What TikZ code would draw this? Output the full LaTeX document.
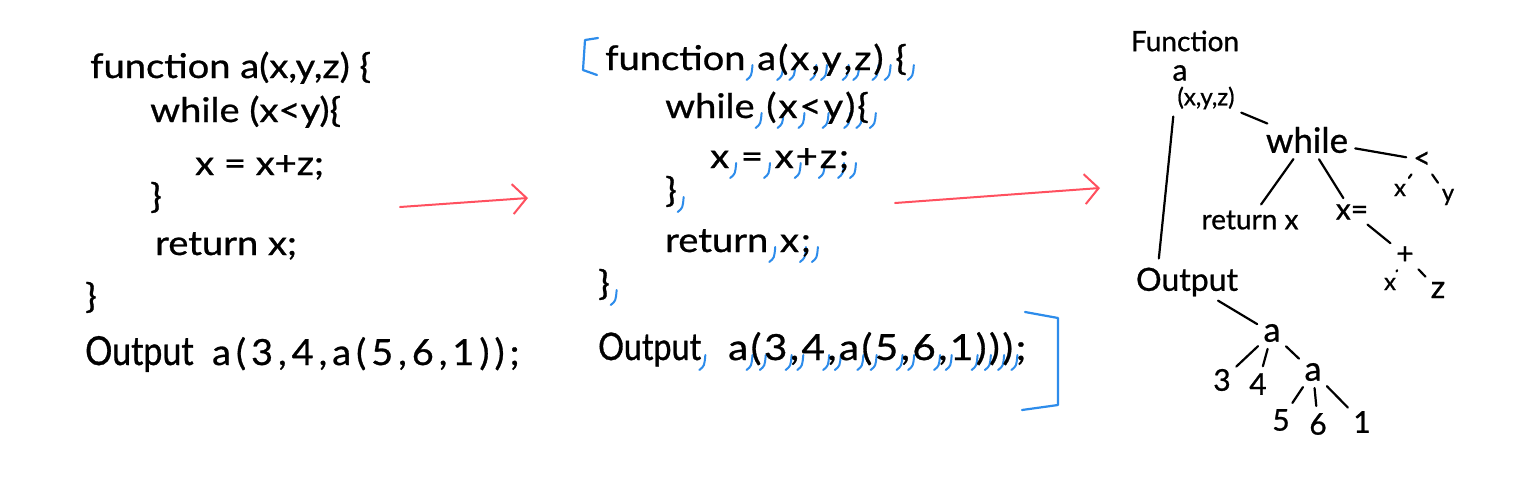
\documentclass[tikz,border=0pt]{standalone}
\usepackage{fontspec}
\setmainfont{Lato}[FakeBold=0.8]
\newfontfamily\codefont{Lato}[FakeStretch=1.12,FakeBold=0.8]
\newfontfamily\widefont{Lato}[FakeStretch=1.05,FakeBold=0.8,LetterSpace=14]
\newfontfamily\narrowfont{Lato}[FakeStretch=0.85,FakeBold=0.8]
\usetikzlibrary{arrows.meta,calc}
\definecolor{inkred}{RGB}{255,80,95}
\definecolor{inkblue}{RGB}{45,140,235}
\newcommand\tb{\makebox[2pt][l]{\tikz[baseline=0pt]\draw[inkblue,line width=2pt,line cap=round] (0pt,-10pt) .. controls (5pt,-6pt) .. (6pt,5pt);}}
\newcommand\tbw{\makebox[2.5pt][c]{\tikz[baseline=0pt]\draw[inkblue,line width=2pt,line cap=round] (0pt,-10pt) .. controls (5pt,-6pt) .. (6pt,5pt);}}
\begin{document}
\begin{tikzpicture}[x=1pt,y=-1pt,
  code/.style={anchor=base west, inner sep=0pt, font=\codefont\fontsize{34}{38}\selectfont},
  outcode/.style={anchor=base west, inner sep=0pt, font=\narrowfont\fontsize{#1}{#1}\selectfont},
  argcode/.style={anchor=base west, inner sep=0pt, font=\widefont\fontsize{36}{40}\selectfont},
  midargcode/.style={anchor=base west, inner sep=0pt, font=\codefont\fontsize{36}{40}\selectfont},
  tree/.style={inner sep=1pt, font=\fontsize{28}{30}\selectfont},
  fs/.style={font=\fontsize{#1}{#1}\selectfont},
  edge/.style={draw, line width=2.2pt, line cap=round, shorten <=6pt, shorten >=6pt},
  vline/.style={draw, line width=2.2pt, line cap=round, line join=round},
  redarrow/.style={draw=inkred, line width=2pt, line cap=round, -{Straight Barb[length=14pt,width=30pt]}},
  bracket/.style={draw=inkblue, line width=2.2pt, line cap=round, line join=round}]
\fill[white] (0,0) rectangle (1536,482);
\useasboundingbox (0,0) rectangle (1536,482);

% left panel
\node[code] (l1) at (90,78) {function a(x,y,z) \{};
\node[code] (l2) at (150,122) {while (x<y)\{};
\node[code] (l3) at (195,175) {x = x+z;};
\node[code] (l4) at (150,208) {\}};
\node[code] (l5) at (155,255) {return x;};
\node[code] (l6) at (85,308) {\}};
\node[outcode=40] (l7) at (85,365) {Output};
\node[argcode] (l7b) at (212,365) {a(3,4,a(5,6,1));};

% middle panel
\node[code] (m1) at (605,70) {function\tb{} a\tb(\tb x\tb,\tb y\tb,\tb z\tb)\tb{} \{\tb};
\node[code] (m2) at (665,118) {while\tb{} (\tb x\tb<\tb y\tb)\tb\{\tb};
\node[code] (m3) at (710,168) {x\tb{} =\tb{} x\tb+\tb z\tb;\tb};
\node[code] (m4) at (665,202) {\}\tb};
\node[code] (m5) at (665,252) {return\tb{} x\tb;\tb};
\node[code] (m6) at (598,295) {\}\tb};
\node[outcode=38] (m7) at (598,360) {Output\tbw};
\node[midargcode] (m7b) at (728,360) {a\tbw(\tbw 3\tbw,\tbw 4\tbw,\tbw a\tbw(\tbw 5\tbw,\tbw 6\tbw,\tbw 1\tbw)\tbw)\tbw)\tbw;};

\draw[bracket] (598,38) -- (585,40) -- (583,70) -- (597,75);
\draw[bracket] (1025,312) -- (1058,318) -- (1058,405) -- (1022,410);

% arrows
\coordinate (r1s) at (400,207);
\coordinate (r1e) at (528,198);
\coordinate (r2s) at (895,203);
\coordinate (r2e) at (1100,188);
\draw[redarrow] (r1s) -- (r1e);
\draw[redarrow] (r2s) -- (r2e);

% tree
\node[tree] (fn) at (1185,41) {Function};
\node[tree,fs=30,inner sep=0pt] (fa) at (1180,73) {a};
\node[tree,fs=24] (fargs) at (1206,98) {(x,y,z)};
\node[tree,fs=35] (wh) at (1307,140) {while};
\node[tree,fs=30] (lt) at (1422,160) {<};
\node[tree,fs=24] (ltx) at (1400,190) {x};
\node[tree,fs=24] (lty) at (1448,197) {y};
\node[tree] (ret) at (1250,220) {return x};
\node[tree,fs=30] (xeq) at (1352,212) {x=};
\node[tree,fs=30] (plus) at (1405,255) {+};
\node[tree,fs=24] (px) at (1390,284) {x};
\node[tree,fs=32] (pz) at (1438,290) {z};
\node[tree,fs=32] (out) at (1187,282) {Output};
\node[tree,fs=34] (oa) at (1272,333) {a};
\node[tree,fs=30] (n3) at (1222,380) {3};
\node[tree,fs=30] (n4) at (1258,384) {4};
\node[tree,fs=34] (oa2) at (1313,372) {a};
\node[tree,fs=30] (n5) at (1281,420) {5};
\node[tree,fs=30] (n6) at (1318,424) {6};
\node[tree,fs=30] (n1) at (1362,422) {1};

\draw[edge] (fargs) -- (wh);
\draw[edge] (wh) -- (lt);
\draw[edge] (lt) -- (ltx);
\draw[edge] (lt) -- (lty);
\draw[edge] (wh) -- (ret);
\draw[edge] (wh) -- (xeq);
\draw[edge] (xeq) -- (plus);
\draw[edge] (plus) -- (px);
\draw[edge] (plus) -- (pz);
\draw[vline] ($(fargs.south west)+(-3,6)$) -- ($(fargs.south west)+(-7,46)$) -- ($(out.north west)+(24,-8)$);
\draw[edge] (out) -- (oa);
\draw[edge] (oa) -- (n3);
\draw[edge] (oa) -- (n4);
\draw[edge] (oa) -- (oa2);
\draw[edge] (oa2) -- (n5);
\draw[edge] (oa2) -- (n6);
\draw[edge] (oa2) -- (n1);
\end{tikzpicture}
\end{document}
